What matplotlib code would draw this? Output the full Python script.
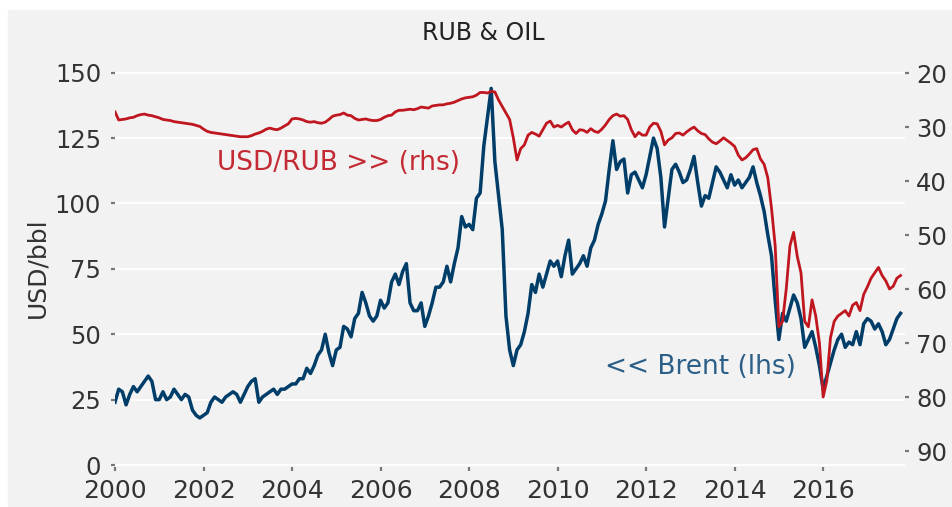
import numpy as np
import matplotlib
matplotlib.use("Agg")
import matplotlib.pyplot as plt
from matplotlib.patches import Rectangle

# Brent, USD/bbl, monthly from Jan 2000 to Oct 2017
brent = [
    24, 29, 28, 23, 27, 30, 28, 30, 32, 34, 32, 25,          # 2000
    25, 28, 25, 26, 29, 27, 25, 27, 26, 21, 19, 18,          # 2001
    19, 20, 24, 26, 25, 24, 26, 27, 28, 27, 24, 27,          # 2002
    30, 32, 33, 24, 26, 27, 28, 29, 27, 29, 29, 30,          # 2003
    31, 31, 33, 33, 37, 35, 38, 42, 44, 50, 43, 38,          # 2004
    44, 45, 53, 52, 49, 56, 58, 66, 62, 57, 55, 57,          # 2005
    63, 60, 62, 70, 73, 69, 74, 77, 62, 59, 59, 62,          # 2006
    53, 57, 62, 68, 68, 70, 76, 70, 77, 83, 95, 91,          # 2007
    92, 90, 102, 104, 122, 133, 144, 116, 103, 90, 57, 44,   # 2008
    38, 44, 46, 51, 58, 69, 66, 73, 68, 73, 78, 76,          # 2009
    78, 72, 80, 86, 73, 75, 77, 80, 76, 83, 86, 92,          # 2010
    96, 101, 113, 124, 113, 116, 117, 104, 111, 112, 109, 106,  # 2011
    111, 118, 125, 121, 110, 91, 102, 113, 115, 112, 108, 109,  # 2012
    113, 118, 108, 99, 103, 102, 108, 114, 112, 109, 106, 111,  # 2013
    107, 109, 106, 108, 110, 114, 108, 103, 97, 88, 80, 63,  # 2014
    48, 58, 55, 60, 65, 62, 56, 45, 48, 51, 45, 38,          # 2015
    29, 34, 39, 44, 48, 50, 45, 47, 46, 51, 46, 54,          # 2016
    56, 55, 52, 54, 51, 46, 48, 52, 56, 58,                  # 2017
]

# USD/RUB, same months (right axis, inverted)
usdrub = [
    27.2, 28.7, 28.6, 28.5, 28.3, 28.2, 27.9, 27.7, 27.6, 27.8, 27.9, 28.1,  # 2000
    28.3, 28.6, 28.7, 28.8, 29.0, 29.1, 29.2, 29.3, 29.4, 29.5, 29.7, 29.9,  # 2001
    30.4, 30.8, 31.0, 31.1, 31.2, 31.3, 31.4, 31.5, 31.6, 31.7, 31.8, 31.8,  # 2002
    31.8, 31.6, 31.3, 31.1, 30.8, 30.4, 30.2, 30.4, 30.5, 30.2, 29.8, 29.4,  # 2003
    28.5, 28.4, 28.5, 28.7, 29.0, 29.1, 29.0, 29.2, 29.3, 29.1, 28.6, 28.0,  # 2004
    27.8, 27.7, 27.4, 27.8, 27.9, 28.4, 28.7, 28.6, 28.5, 28.7, 28.8, 28.8,  # 2005
    28.6, 28.2, 27.9, 27.8, 27.2, 26.9, 26.9, 26.8, 26.7, 26.8, 26.6, 26.3,  # 2006
    26.4, 26.5, 26.1, 26.0, 25.9, 25.9, 25.7, 25.6, 25.4, 25.1, 24.8, 24.6,  # 2007
    24.5, 24.4, 24.1, 23.6, 23.6, 23.7, 23.4, 23.5, 25.0, 26.2, 27.4, 28.6,  # 2008
    32.0, 36.1, 34.0, 33.3, 31.5, 31.0, 31.3, 31.7, 30.5, 29.3, 28.9, 30.0,  # 2009
    29.7, 30.0, 29.5, 29.1, 30.5, 31.2, 30.5, 30.6, 31.0, 30.3, 30.8, 31.0,  # 2010
    30.4, 29.6, 28.6, 27.9, 27.6, 28.0, 27.9, 28.6, 30.5, 31.8, 31.0, 31.5,  # 2011
    31.5, 30.0, 29.3, 29.4, 30.8, 33.3, 32.4, 32.0, 31.2, 31.1, 31.5, 30.9,  # 2012
    30.4, 30.0, 30.7, 31.2, 31.4, 32.2, 32.8, 33.1, 32.6, 32.0, 32.5, 33.0,  # 2013
    33.6, 35.2, 36.1, 35.7, 35.0, 34.2, 34.0, 35.9, 36.9, 39.4, 45.0, 52.0,  # 2014
    67.0, 66.0, 60.0, 52.0, 49.5, 54.0, 57.0, 66.0, 67.0, 62.0, 65.0, 70.0,  # 2015
    80.0, 77.0, 69.0, 66.0, 65.0, 64.5, 64.0, 65.0, 63.0, 62.5, 64.0, 61.0,  # 2016
    59.6, 58.0, 57.0, 56.0, 57.5, 58.5, 60.0, 59.5, 58.0, 57.5,              # 2017
]

years = 2000 + np.arange(len(brent)) / 12
year_ticks = [2000, 2002, 2004, 2006, 2008, 2010, 2012, 2014, 2016]
lhs_ticks = [0, 25, 50, 75, 100, 125, 150]
rhs_ticks = [20, 30, 40, 50, 60, 70, 80, 90]

BG = "#f2f2f2"
RED = "#c0161f"
BLUE = "#003e69"
TXT = "#333333"

W, H = 952, 507
fig = plt.figure(figsize=(W / 100, H / 100), dpi=100, facecolor="white")
fig.patches.append(Rectangle((8 / W, 1 / H), 944 / W, 496 / H,
                             transform=fig.transFigure, color=BG, zorder=-5))

ax = fig.add_axes([115 / W, 1 - 467 / H, 790 / W, 399 / H])
ax.set_facecolor(BG)
ax.plot(years, brent, color=BLUE, lw=2.5, zorder=3)
ax.set_xlim(2000, 2017.85)
ax.set_ylim(-0.76, 151.8)
ax.set_xticks(year_ticks)
ax.set_yticks(lhs_ticks)
ax.yaxis.grid(True, color="white", lw=1.4)
ax.set_axisbelow(True)
ax.set_ylabel("USD/bbl", fontsize=18, color=TXT, labelpad=4)
ax.tick_params(axis="both", length=3, width=1.6, color="#777777",
               labelcolor=TXT)
ax.tick_params(axis="y", pad=7, labelsize=17.5)
ax.tick_params(axis="x", pad=6, labelsize=18)

ax2 = ax.twinx()
ax2.patch.set_visible(False)
ax2.plot(years, usdrub, color=RED, lw=2.0, zorder=4)
ax2.set_ylim(92.96, 19.07)
ax2.set_yticks(rhs_ticks)
ax2.tick_params(axis="y", length=3, width=1.6, color="#777777",
                labelsize=17.5, labelcolor=TXT, pad=5)

for a in (ax, ax2):
    for s in a.spines.values():
        s.set_visible(False)

ax.text(2002.3, 115.4, "USD/RUB >> (rhs)", color="#c32a33", fontsize=19,
        ha="left", va="center")
ax.text(2011.07, 37.5, "<< Brent (lhs)", color="#2b5f88", fontsize=19,
        ha="left", va="center")

fig.text(483 / W, 1 - 33 / H, "RUB & OIL", fontsize=17, color="#222222",
         ha="center", va="center")

fig.savefig("out.png", dpi=100, facecolor=fig.get_facecolor())
